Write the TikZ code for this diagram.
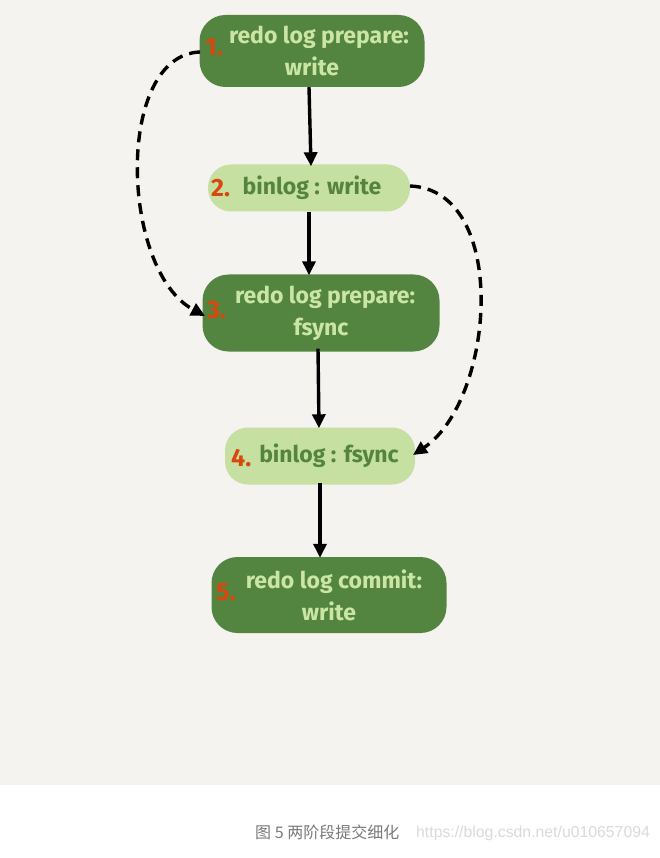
\documentclass[tikz,border=0pt]{standalone}
\usepackage{fontspec}
\setmainfont{Fira Sans}
\newfontfamily\cjk{Noto Sans CJK SC}
\newfontfamily\wmfont{Liberation Sans}
\usetikzlibrary{arrows.meta}
\definecolor{bg}{HTML}{F4F3EF}
\definecolor{dkgreen}{HTML}{538540}
\definecolor{ltgreen}{HTML}{C6E0A1}
\definecolor{txtlt}{HTML}{CBE6A4}
\definecolor{txtdk}{HTML}{55843F}
\definecolor{numor}{HTML}{D9470E}
\definecolor{capgray}{HTML}{7A7A7A}
\definecolor{wmgray}{HTML}{DADADA}
\tikzset{
  darkbox/.style={fill=dkgreen, rounded corners=26pt, inner sep=0pt, text=txtlt, align=center, font=\bfseries\fontsize{23}{32}\selectfont},
  lightbox/.style={fill=ltgreen, rounded corners=23pt, inner sep=0pt, text=txtdk, font=\bfseries\fontsize{23}{27}\selectfont},
  num/.style={text=numor, font=\bfseries\fontsize{25}{28}\selectfont, inner sep=0pt},
  flow/.style={draw=black, line width=3.4pt, -{Triangle[length=14pt,width=13pt]}},
  dflow/.style={draw=black, line width=3.4pt, dash pattern=on 11pt off 7pt, -{Triangle[length=14pt,width=13pt]}},
}
\begin{document}
\begin{tikzpicture}[x=1pt,y=-1pt]
\useasboundingbox (0,0) rectangle (660,858);
\fill[white] (0,0) rectangle (660,858);
\fill[bg] (0,0) rectangle (660,785);
% nodes
\node[darkbox, minimum width=225pt, minimum height=72pt] (n1) at (312,51) {\hspace*{14pt}redo log prepare:\\write};
\node[lightbox, minimum width=202pt, minimum height=47pt] (n2) at (309,188) {\hspace*{6pt}binlog : write};
\node[darkbox, minimum width=237pt, minimum height=77pt] (n3) at (321,313) {\hspace*{8pt}redo log prepare:\\fsync};
\node[lightbox, minimum width=190pt, minimum height=57pt] (n4) at (320,456) {\hspace*{18pt}binlog : fsync};
\node[darkbox, minimum width=235pt, minimum height=76pt] (n5) at (329,595) {\hspace*{10pt}redo log commit:\\write};
% numbers
\node[num, anchor=west] (k1) at (205,47) {1.};
\node[num, anchor=west] (k2) at (211,188) {2.};
\node[num, anchor=west] (k3) at (207,310) {3.};
\node[num, anchor=west] (k4) at (231,458) {4.};
\node[num, anchor=west] (k5) at (216,592) {5.};
% solid arrows
\draw[flow] (n1.south -| 309,0) -- ([yshift=-2pt]n2.north -| 311,0);
\draw[flow] (n2.south -| 309,0) -- ([yshift=-1pt]n3.north -| 309,0);
\draw[flow] ([yshift=3pt]n3.south -| 318,0) -- ([yshift=-1pt]n4.north -| 319,0);
\draw[flow] ([yshift=2pt]n4.south -| 320,0) -- ([yshift=-1pt]n5.north -| 320,0);
% dashed arrows
\coordinate (a1) at (200,52);
\coordinate (a3) at (205,316);
\draw[dflow] (a1) .. controls (115,55) and (120,270) .. (a3);
\coordinate (b2) at (410,186);
\coordinate (b4) at (413,455);
\draw[dflow] (b2) .. controls (510,190) and (495,400) .. (b4);
% caption
\node[text=capgray, font=\cjk\fontsize{16}{18}\selectfont, anchor=west, inner sep=0pt] (cap) at (255,832) {图 5 两阶段提交细化};
\node[text=wmgray, font=\wmfont\fontsize{15.8}{17}\selectfont, anchor=west, inner sep=0pt] (wm) at (416,833) {https://blog.csdn.net/u010657094};
\end{tikzpicture}
\end{document}
